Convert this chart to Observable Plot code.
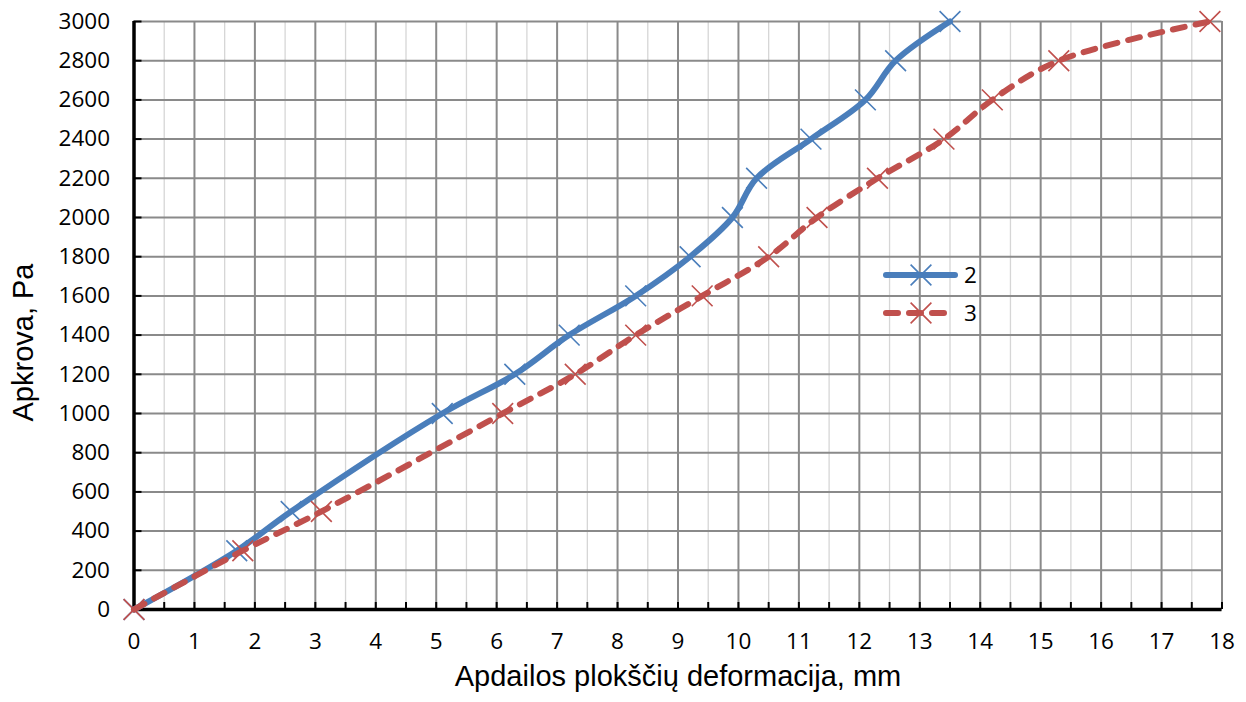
<!DOCTYPE html>
<html>
<head>
<meta charset="utf-8">
<script src="https://cdn.jsdelivr.net/npm/d3@7"></script>
<script src="https://cdn.jsdelivr.net/npm/@observablehq/plot@0.6"></script>
<style>
  html, body { margin: 0; padding: 0; background: white; }
  #wrap { position: relative; width: 1246px; height: 702px; }
  #legend { position: absolute; left: 878px; top: 258px; }
</style>
</head>
<body>
<div id="wrap"></div>
<script>
// Series data
const loads = [0, 300, 500, 1000, 1200, 1400, 1600, 1800, 2000, 2200, 2400, 2600, 2800, 3000];
const deform2 = [0, 1.7, 2.6, 5.1, 6.3, 7.2, 8.3, 9.2, 9.9, 10.3, 11.2, 12.1, 12.6, 13.5];
const deform3 = [0, 1.8, 3.1, 6.1, 7.3, 8.3, 9.4, 10.5, 11.3, 12.3, 13.4, 14.2, 15.3, 17.8];
const seriesNames = ["2", "3"];

// Tick values
const xTicks = d3.range(0, 19, 1);
const xMinor = d3.range(0.5, 18, 1);
const xHalf = d3.range(0, 18.5, 0.5);
const yTicks = d3.range(0, 3200, 200);

const xTitle = "Apdailos plokščių deformacija, mm";
const yTitle = "Apkrova, Pa";

const blue = "#4a7ebb";
const red = "#c0504d";

const s2 = loads.map((y, i) => ({x: deform2[i], y}));
const s3 = loads.map((y, i) => ({x: deform3[i], y}));

const chart = Plot.plot({
  width: 1246,
  height: 702,
  marginLeft: 133.5,
  marginRight: 24.5,
  marginTop: 21,
  marginBottom: 93,
  x: {domain: [0, 18]},
  y: {domain: [0, 3000]},
  style: {fontFamily: "'Open Sans', sans-serif", fontSize: "22.5px", color: "black", background: "white"},
  marks: [
    Plot.ruleX(xMinor, {stroke: "#d6d6d6", strokeWidth: 1.3}),
    Plot.ruleX(xTicks, {stroke: "#8a8a8a", strokeWidth: 2}),
    Plot.ruleY(yTicks, {stroke: "#8a8a8a", strokeWidth: 2}),
    Plot.axisX({ticks: xTicks, tickSize: 0, tickPadding: 24, tickFormat: d => String(d), label: null}),
    Plot.axisX({ticks: xHalf, tickSize: 7, dy: -7, fill: "none", strokeWidth: 2, label: null}),
    Plot.axisY({ticks: yTicks, tickSize: 0, tickPadding: 24, tickFormat: d => String(d), label: null}),
    Plot.axisY({ticks: yTicks, tickSize: 8, dx: 8, fill: "none", strokeWidth: 2, label: null}),
    Plot.ruleX([0], {stroke: "black", strokeWidth: 3.5}),
    Plot.ruleY([0], {stroke: "black", strokeWidth: 3.5}),
    Plot.line(s2, {x: "x", y: "y", stroke: blue, strokeWidth: 6, curve: "catmull-rom", strokeLinejoin: "round", strokeLinecap: "round"}),
    Plot.dot(s2, {x: "x", y: "y", symbol: "times", r: 9.5, stroke: blue, strokeWidth: 1.6}),
    Plot.line(s3, {x: "x", y: "y", stroke: red, strokeWidth: 6, curve: "catmull-rom", strokeDasharray: "12,11", strokeLinecap: "round"}),
    Plot.dot(s3, {x: "x", y: "y", symbol: "times", r: 9.5, stroke: red, strokeWidth: 1.6}),
    Plot.text([xTitle], {text: d => d, frameAnchor: "bottom", dy: 56, lineAnchor: "top", fontFamily: "'Liberation Sans', Arial, sans-serif", fontSize: 29}),
    Plot.text([yTitle], {text: d => d, frameAnchor: "left", textAnchor: "middle", rotate: -90, dx: -110, dy: 27, lineAnchor: "middle", fontFamily: "'Liberation Sans', Arial, sans-serif", fontSize: 29})
  ]
});

const wrap = document.getElementById("wrap");
wrap.appendChild(chart);

// Legend
const legend = d3.select(wrap).append("div").attr("id", "legend")
  .append("svg").attr("width", 110).attr("height", 80)
  .style("font-family", "'Open Sans', sans-serif").style("font-size", "22.5px");
const legendItems = [
  {name: seriesNames[0], color: blue, dash: null},
  {name: seriesNames[1], color: red, dash: "12,11"}
];
legendItems.forEach((it, i) => {
  const cy = 17 + i * 38;
  legend.append("line").attr("x1", 8).attr("x2", 77).attr("y1", cy).attr("y2", cy)
    .attr("stroke", it.color).attr("stroke-width", 6).attr("stroke-linecap", "round")
    .attr("stroke-dasharray", it.dash);
  legend.append("path").attr("d", d3.symbol(d3.symbolTimes, Math.PI * 9.5 * 9.5)())
    .attr("transform", `translate(43,${cy})`).attr("stroke", it.color).attr("stroke-width", 1.6).attr("fill", "none");
  legend.append("text").attr("x", 86).attr("y", cy).attr("dy", "0.36em").text(it.name);
});
</script>
</body>
</html>
